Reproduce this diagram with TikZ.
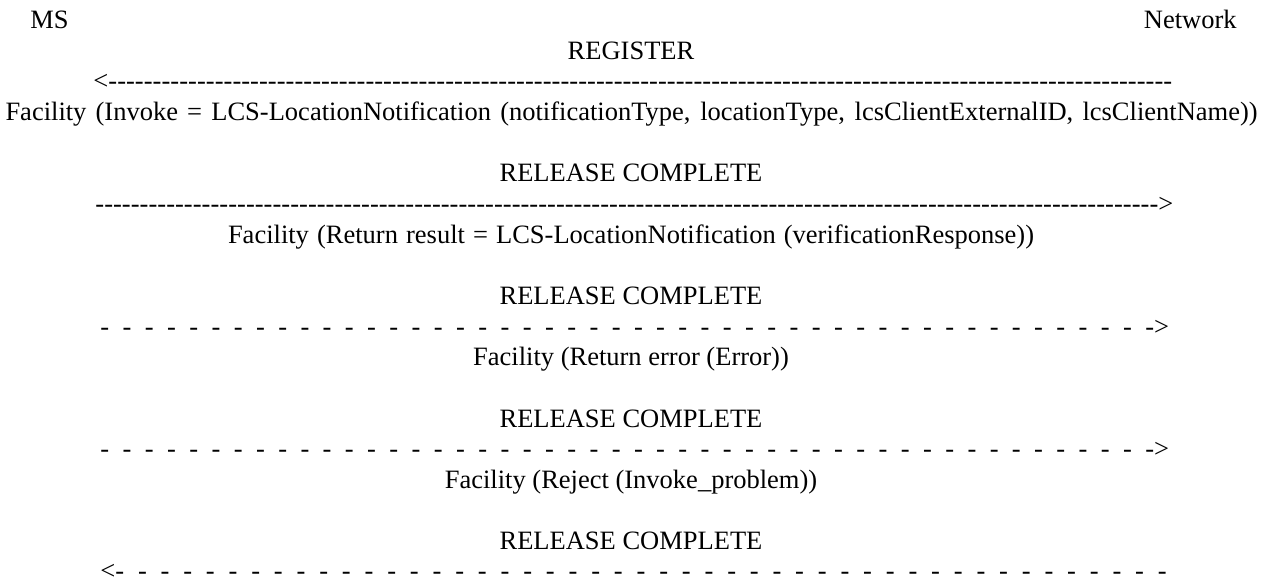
\documentclass[tikz,border=0pt]{standalone}
\usepackage{fontspec}
\setmainfont{Liberation Serif}
\newcommand\solidrow[1]{\hbox to #1{\xleaders\hbox{-}\hfill}}
\newcommand\spacedrowL[2]{\hbox to #1{\xleaders\hbox to #2{-\hss}\hfill}}
\newcommand\spacedrowR[2]{\hbox to #1{\xleaders\hbox to #2{\hss-}\hfill}}
\tikzset{
  lbl/.style={inner sep=0pt, anchor=base, font=\fontsize{13.25}{15}\selectfont},
  lblw/.style={lbl, anchor=base west},
  lble/.style={lbl, anchor=base east}
}
\begin{document}
\begin{tikzpicture}[x=0.5pt,y=-0.5pt]
\useasboundingbox (0,0) rectangle (1262,582);
\node[lblw] (ms) at (30,28.5) {MS};
\node[lble] (net) at (1237,28.5) {Network};
\node[lbl] (reg) at (631,59.2) {REGISTER};
\node[lblw] (a1) at (93,89.8) {<\solidrow{532pt}};
\node[lbl] (f1) at (631.5,120.5) {\hbox to 626pt{Facility (Invoke = LCS-LocationNotification (notificationType, locationType, lcsClientExternalID, lcsClientName))}};
\node[lbl] (rc1) at (631,181.8) {RELEASE COMPLETE};
\node[lblw] (a2) at (95,212.4) {\solidrow{531.5pt}>};
\node[lbl] (f2) at (631,243.1) {\hbox to 403pt{Facility (Return result = LCS-LocationNotification (verificationResponse))}};
\node[lbl] (rc2) at (631,304.4) {RELEASE COMPLETE};
\node[lblw] (a3) at (100,335.1) {\spacedrowL{522.5pt}{11.1pt}->};
\node[lbl] (f3) at (631,365.7) {Facility (Return error (Error))};
\node[lbl] (rc3) at (631,427.0) {RELEASE COMPLETE};
\node[lblw] (a4) at (100,457.7) {\spacedrowL{522.5pt}{11.1pt}->};
\node[lbl] (f4) at (631,488.3) {Facility (Reject (Invoke\_problem))};
\node[lbl] (rc4) at (631,549.6) {RELEASE COMPLETE};
\node[lblw] (a5) at (100,579.5) {<-\spacedrowR{521.5pt}{11.1pt}};
\end{tikzpicture}
\end{document}
